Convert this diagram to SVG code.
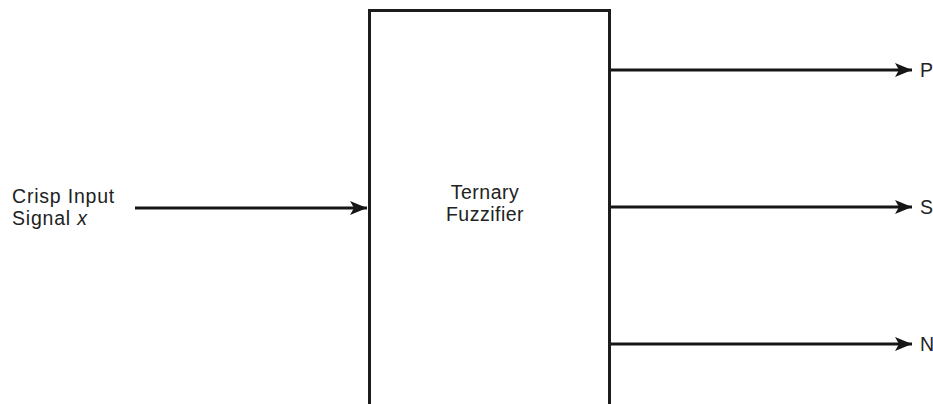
<svg xmlns="http://www.w3.org/2000/svg" width="933" height="404" viewBox="0 0 933 404">
<style>
  .lbl { font-family: "Liberation Sans", Arial, sans-serif; font-size: 19.5px; fill: #222222; letter-spacing: 0.5px; }
  .edge { stroke: #161616; stroke-width: 3; fill: none; }
  .box { fill: #ffffff; stroke: #1c1c1c; stroke-width: 3; }
</style>
<defs>
  <marker id="arrow" markerUnits="userSpaceOnUse" markerWidth="20" markerHeight="16" refX="17" refY="8" orient="auto">
    <path d="M0,1 L17,8 L0,15 L4,8 Z" fill="#161616"/>
  </marker>
</defs>
<rect width="933" height="404" fill="#ffffff"/>
<g id="connectors">
  <line class="edge" x1="135" y1="208" x2="367" y2="208" marker-end="url(#arrow)"/>
  <line class="edge" x1="610" y1="70" x2="912" y2="70" marker-end="url(#arrow)"/>
  <line class="edge" x1="610" y1="207" x2="912" y2="207" marker-end="url(#arrow)"/>
  <line class="edge" x1="610" y1="344" x2="912" y2="344" marker-end="url(#arrow)"/>
</g>
<g id="node-input">
  <text class="lbl" x="12" y="203" style="letter-spacing:0.8px">Crisp Input</text>
  <text class="lbl" x="12" y="225" style="letter-spacing:0.8px">Signal <tspan font-style="italic">x</tspan></text>
</g>
<g id="node-fuzzifier">
  <rect class="box" x="369.5" y="10.5" width="240" height="410"/>
  <text class="lbl" x="485" y="199" text-anchor="middle">Ternary</text>
  <text class="lbl" x="485" y="221" text-anchor="middle">Fuzzifier</text>
</g>
<g id="node-p">
  <text class="lbl" x="920" y="77">P</text>
</g>
<g id="node-s">
  <text class="lbl" x="920" y="214">S</text>
</g>
<g id="node-n">
  <text class="lbl" x="920" y="351">N</text>
</g>
</svg>
